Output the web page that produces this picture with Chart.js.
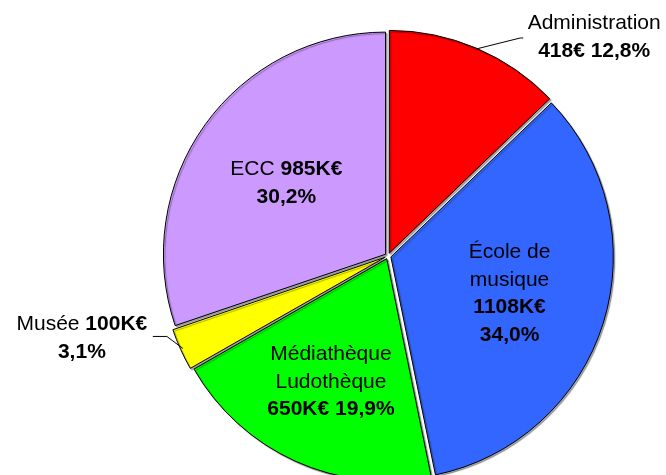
<!DOCTYPE html>
<html>
<head>
<meta charset="utf-8">
<script src="https://cdn.jsdelivr.net/npm/chart.js@4"></script>
<style>
  html, body { margin: 0; padding: 0; background: #fff; overflow: hidden; }
  #wrap { width: 666px; height: 475px; position: relative; }
</style>
</head>
<body>
<div id="wrap"><canvas id="pie" width="666" height="475"></canvas></div>
<script>
// Budget split per service, drawn clockwise from 12 o'clock
const names = ["Administration", "École de\nmusique", "Médiathèque\nLudothèque", "Musée", "ECC"];
const values = [418, 1108, 650, 100, 985];
const units = ["€", "K€", "K€", "K€", "K€"];
const colors = ["#ff0000", "#3366ff", "#00ff00", "#ffff00", "#cc99ff"];

// how each label is laid out
// "valPct": name lines, then "value pct" bold
// "stack": name lines, value bold, pct bold
// "nameVal": "name value(bold)", then pct bold
const labelMode = ["valPct", "stack", "valPct", "nameVal", "nameVal"];

const total = values.reduce((a, b) => a + b, 0);
const pctText = (v) => (v / total * 100).toFixed(1).replace(".", ",") + "%";

function buildLines(i){
  const nm = names[i].split("\n");
  const val = values[i] + units[i];
  const pct = pctText(values[i]);
  const lines = nm.map(t => [[t, false]]);
  if(labelMode[i] === "valPct"){
    lines.push([[val + " " + pct, true]]);
  } else if(labelMode[i] === "stack"){
    lines.push([[val, true]]);
    lines.push([[pct, true]]);
  } else {
    lines[lines.length - 1].push([" " + val, true]);
    lines.push([[pct, true]]);
  }
  return lines;
}

// --------------------- label placement ---------------------
// inside labels: fraction of radius along the mid angle
const insideR = { 1: 0.56, 2: 0.61, 4: 0.55 };
// outside labels: leader from arc edge -> elbow -> end, text centred at txt
const callouts = {
  0: { elbow: [44, -11], end: [47, -11], txt: [118, -12] },
  3: { elbow: [-16, -12], end: [-30, -12], txt: [-101, -10] }
};

const FONT = '"Liberation Sans", Arial, sans-serif';
const SIZE = 21;
const LINE_H = 27.5;

function drawLines(ctx, lines, cx, cy){
  ctx.textBaseline = "middle";
  ctx.textAlign = "left";
  ctx.fillStyle = "#000";
  const top = cy - (lines.length - 1) * LINE_H / 2;
  lines.forEach((runs, li) => {
    let w = 0;
    runs.forEach(([t, b]) => { ctx.font = (b ? "bold " : "") + SIZE + "px " + FONT; w += ctx.measureText(t).width; });
    let x = cx - w / 2;
    runs.forEach(([t, b]) => {
      ctx.font = (b ? "bold " : "") + SIZE + "px " + FONT;
      ctx.fillText(t, x, top + li * LINE_H);
      x += ctx.measureText(t).width;
    });
  });
}

const labelPlugin = {
  id: "sliceLabels",
  beforeDatasetsDraw(chart){
    const ctx = chart.ctx;
    ctx.save();
    ctx.shadowColor = "rgba(0,0,0,0.35)";
    ctx.shadowOffsetX = 1.5;
    ctx.shadowOffsetY = 1.5;
    ctx.shadowBlur = 1;
  },
  afterDatasetsDraw(chart){
    const ctx = chart.ctx;
    ctx.restore();
    const arcs = chart.getDatasetMeta(0).data;
    arcs.forEach((arc, i) => {
      const { x, y, startAngle, endAngle, outerRadius } = arc.getProps(["x", "y", "startAngle", "endAngle", "outerRadius"], true);
      // Chart.js v4 moves an arc by offset/4
      const off = (arc.options.offset || 0) / 4;
      const mid = (startAngle + endAngle) / 2;
      const cx = x + Math.cos(mid) * off;
      const cy = y + Math.sin(mid) * off;
      const lines = buildLines(i);
      if(callouts[i]){
        const c = callouts[i];
        const ex = cx + Math.cos(mid) * outerRadius;
        const ey = cy + Math.sin(mid) * outerRadius;
        ctx.save();
        ctx.strokeStyle = "#000";
        ctx.lineWidth = 1;
        ctx.beginPath();
        ctx.moveTo(ex, ey);
        ctx.lineTo(ex + c.elbow[0], ey + c.elbow[1]);
        ctx.lineTo(ex + c.end[0], ey + c.end[1]);
        ctx.stroke();
        ctx.restore();
        drawLines(ctx, lines, ex + c.txt[0], ey + c.txt[1]);
      } else {
        const r = outerRadius * insideR[i];
        drawLines(ctx, lines, cx + Math.cos(mid) * r, cy + Math.sin(mid) * r);
      }
    });
  }
};

new Chart(document.getElementById("pie"), {
  type: "pie",
  data: {
    labels: names,
    datasets: [{
      data: values,
      backgroundColor: colors,
      borderColor: "#000",
      borderWidth: 1,
      offset: 12,
      hoverOffset: 0
    }]
  },
  options: {
    responsive: false,
    animation: false,
    devicePixelRatio: 1,
    radius: 222,
    layout: { padding: { left: 110, top: 37, right: 0, bottom: 0 } },
    plugins: {
      legend: { display: false },
      tooltip: { enabled: false }
    },
    events: []
  },
  plugins: [labelPlugin]
});
</script>
</body>
</html>
